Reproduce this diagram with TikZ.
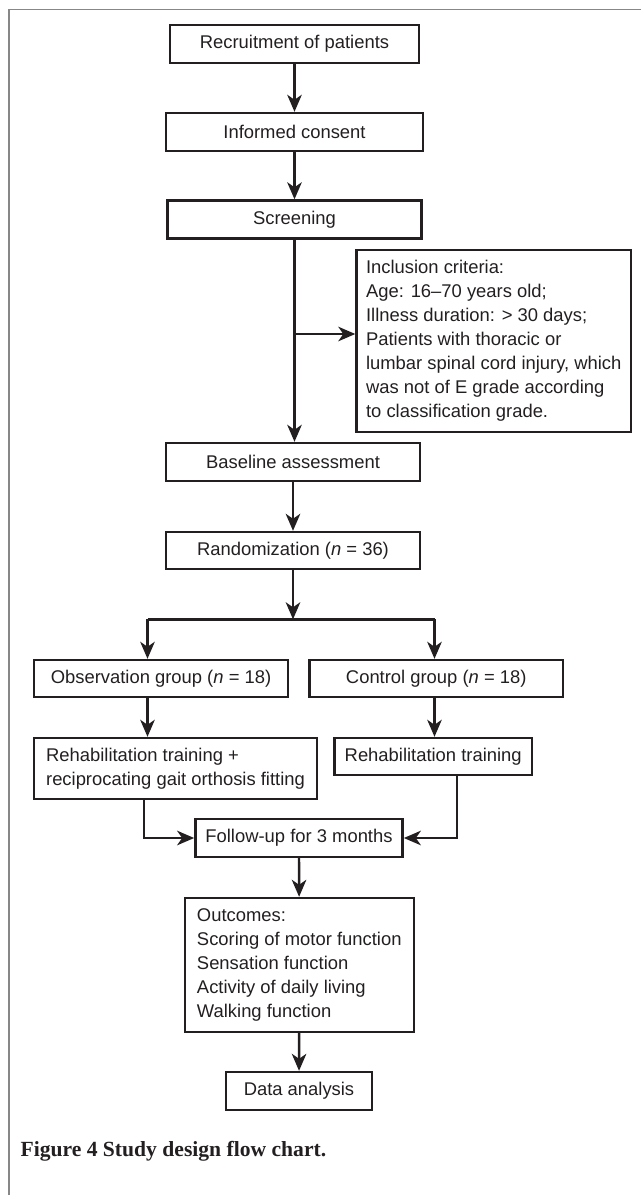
\documentclass[tikz,border=0pt]{standalone}
\usepackage{fontspec}
\setmainfont{Liberation Sans}
\newfontfamily\capfont{Liberation Serif}
\usetikzlibrary{arrows.meta}
\definecolor{ink}{RGB}{35,31,32}
\definecolor{framegray}{RGB}{135,135,135}
\begin{document}
\begin{tikzpicture}[x=1pt,y=-1pt,
  box/.style={draw=ink,line width=2.4pt,rectangle,inner sep=0pt,align=left,text=ink,
    font=\fontsize{18.4}{24}\selectfont},
  arr/.style={draw=ink,line width=2.4pt,-{Stealth[length=17pt,width=14.5pt,inset=5pt]}},
  ln/.style={draw=ink,line width=2.4pt}]
\useasboundingbox (0,0) rectangle (641,1195);
\draw[framegray,line width=1.4pt] (9,1195) -- (9,9.5) -- (641,9.5);

\node[box,minimum width=249pt,minimum height=38pt] (rec) at (294.5,44) {Recruitment of patients};
\node[box,minimum width=257pt,minimum height=38pt] (inf) at (294.5,132) {Informed consent};
\node[box,minimum width=254pt,minimum height=38pt] (scr) at (294.5,219.5) {Screening};
\node[box,minimum width=274.5pt,minimum height=182pt] (incl) at (493.75,341) {Inclusion criteria:\\Age: 16–70 years old;\\Illness duration: > 30 days;\\Patients with thoracic or\\lumbar spinal cord injury, which\\was not of E grade according\\to classification grade.};
\node[box,minimum width=254.5pt,minimum height=38pt] (base) at (293,462) {Baseline assessment};
\node[box,minimum width=254pt,minimum height=37pt] (rand) at (293,550.5) {Randomization (\textit{n} = 36)};
\node[box,minimum width=254pt,minimum height=37pt] (obs) at (161,678.5) {Observation group (\textit{n} = 18)};
\node[box,minimum width=253.5pt,minimum height=37pt] (ctl) at (436.25,678.5) {Control group (\textit{n} = 18)};
\node[box,minimum width=283pt,minimum height=61pt] (rp) at (175.5,768.5) {Rehabilitation training +\\reciprocating gait orthosis fitting};
\node[box,minimum width=197.6pt,minimum height=37pt] (rh) at (433.2,756.5) {Rehabilitation training};
\node[box,minimum width=207.3pt,minimum height=38pt] (fu) at (299,838) {Follow-up for 3 months};
\node[box,minimum width=229pt,minimum height=134pt] (out) at (299.25,965) {Outcomes:\\Scoring of motor function\\Sensation function\\Activity of daily living\\Walking function};
\node[box,minimum width=146pt,minimum height=38pt] (data) at (299,1091) {Data analysis};

\node[anchor=base west,inner sep=0pt,text=ink,font=\capfont\bfseries\fontsize{21.6}{26}\selectfont] (cap) at (20.4,1156) {Figure 4 Study design flow chart.};

\coordinate (br) at (294.5,334);
\coordinate (split) at (293,619.3);
\coordinate (sl) at (147.5,619.3);
\coordinate (sr) at (434.5,619.3);
\coordinate (lx) at (144,799);
\coordinate (rx) at (456.7,775);

\draw[arr] (rec) -- (inf);
\draw[arr] (inf) -- (scr);
\draw[arr] (scr.south) -- (scr.south |- base.north);
\draw[arr] (br) -- (br -| incl.west);
\draw[arr] (base) -- (rand);
\draw[arr] (rand.south) -- (split);
\draw[ln] (sl) -- (sr);
\draw[arr] (sl) -- (sl |- obs.north);
\draw[arr] (sr) -- (sr |- ctl.north);
\draw[arr] (sl |- obs.south) -- (sl |- rp.north);
\draw[arr] (sr |- ctl.south) -- (sr |- rh.north);
\draw[arr] (rp.south -| lx) |- (fu.west);
\draw[arr] (rh.south -| rx) |- (fu.east);
\draw[arr] (fu) -- (out);
\draw[arr] (out) -- (data);
\end{tikzpicture}
\end{document}
